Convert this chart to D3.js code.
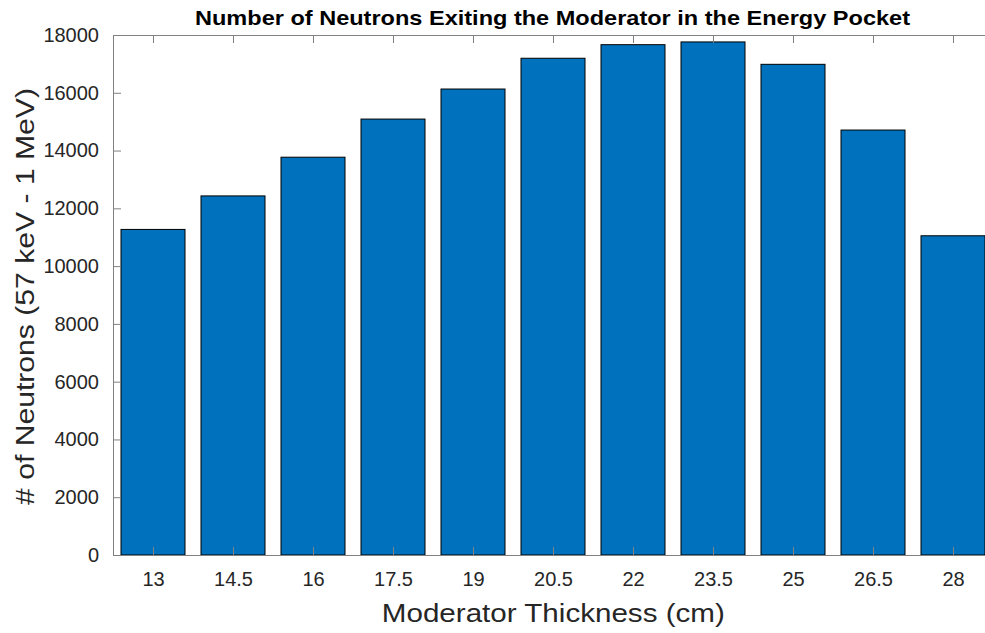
<!DOCTYPE html>
<html>
<head>
<meta charset="utf-8">
<script src="https://cdn.jsdelivr.net/npm/d3@7"></script>
<style>
  html, body { margin: 0; padding: 0; background: #fff; overflow: hidden; }
  svg { display: block; font-family: "Liberation Sans", Arial, Helvetica, sans-serif; }
</style>
</head>
<body>
<svg id="chart" width="985" height="633"></svg>
<script>
const categories = ["13", "14.5", "16", "17.5", "19", "20.5", "22", "23.5", "25", "26.5", "28"];
const thickness = [13, 14.5, 16, 17.5, 19, 20.5, 22, 23.5, 25, 26.5, 28];
const neutrons = [11270, 12430, 13770, 15090, 16130, 17195, 17665, 17760, 16985, 14710, 11050];
const yTicks = [0, 2000, 4000, 6000, 8000, 10000, 12000, 14000, 16000, 18000];

const svg = d3.select("#chart");
const margin = { left: 113, top: 35, right: 993, bottom: 555 };

const x = d3.scaleLinear().domain([12.25, 28.75]).range([margin.left, margin.right]);
const y = d3.scaleLinear().domain([0, 18000]).range([margin.bottom, margin.top]);
const barW = x(13 + 1.5 * 0.8) - x(13);

const data = thickness.map((t, i) => ({ t, v: neutrons[i], label: categories[i] }));

// bars
svg.append("g").selectAll("rect").data(data).join("rect")
  .attr("x", d => x(d.t) - barW / 2)
  .attr("y", d => y(d.v))
  .attr("width", barW)
  .attr("height", d => y(0) - y(d.v))
  .attr("fill", "#0072BD")
  .attr("stroke", "#000")
  .attr("stroke-width", 1);

const axisColor = "#808080";
const textColor = "#262626";

function styleAxis(g) {
  g.select(".domain").attr("stroke", axisColor).attr("stroke-width", 1);
  g.selectAll(".tick line").attr("stroke", axisColor);
  g.selectAll(".tick text").attr("fill", textColor).style("font-size", "20px");
}

// bottom axis (ticks inward)
const xAxis = d3.axisBottom(x).tickValues(thickness).tickFormat((d, i) => categories[i])
  .tickSizeInner(-8).tickSizeOuter(0).tickPadding(17);
svg.append("g").attr("transform", `translate(0,${margin.bottom})`).call(xAxis).call(styleAxis);

// top axis
svg.append("g").attr("transform", `translate(0,${margin.top})`)
  .call(d3.axisTop(x).tickValues(thickness).tickFormat("").tickSizeInner(-8).tickSizeOuter(0))
  .call(styleAxis);

// left axis
const yAxis = d3.axisLeft(y).tickValues(yTicks).tickFormat(d3.format("d"))
  .tickSizeInner(-8).tickSizeOuter(0).tickPadding(14);
svg.append("g").attr("transform", `translate(${margin.left},0)`).call(yAxis).call(styleAxis);

// right axis
svg.append("g").attr("transform", `translate(${margin.right},0)`)
  .call(d3.axisRight(y).tickValues(yTicks).tickFormat("").tickSizeInner(-8).tickSizeOuter(0))
  .call(styleAxis);

// title
svg.append("text")
  .attr("x", 552.5)
  .attr("y", 25)
  .attr("text-anchor", "middle")
  .attr("fill", "#000")
  .attr("textLength", 715)
  .attr("lengthAdjust", "spacingAndGlyphs")
  .style("font-size", "21px")
  .style("font-weight", "bold")
  .text("Number of Neutrons Exiting the Moderator in the Energy Pocket");

// x label
svg.append("text")
  .attr("x", 553.3)
  .attr("y", 622)
  .attr("text-anchor", "middle")
  .attr("fill", textColor)
  .attr("textLength", 343)
  .attr("lengthAdjust", "spacingAndGlyphs")
  .style("font-size", "26px")
  .text("Moderator Thickness (cm)");

// y label
svg.append("text")
  .attr("transform", `translate(34,296.5) rotate(-90)`)
  .attr("text-anchor", "middle")
  .attr("fill", textColor)
  .attr("textLength", 417)
  .attr("lengthAdjust", "spacingAndGlyphs")
  .style("font-size", "26px")
  .text("# of Neutrons (57 keV - 1 MeV)");
</script>
</body>
</html>
